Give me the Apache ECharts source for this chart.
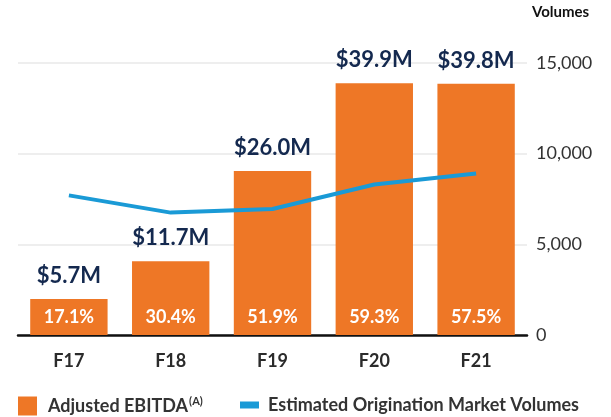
<!DOCTYPE html>
<html>
<head>
<meta charset="utf-8">
<script src="https://cdn.jsdelivr.net/npm/echarts@6/dist/echarts.min.js"></script>
<style>
  html, body { margin: 0; padding: 0; background: #fff; }
  #chart { width: 611px; height: 417px; }
</style>
</head>
<body>
<div id="chart"></div>
<script>
  const years = ['F17', 'F18', 'F19', 'F20', 'F21']
  const ebitda = [5.7, 11.7, 26.0, 39.9, 39.8]
  const margins = [17.1, 30.4, 51.9, 59.3, 57.5]
  const volumes = [7700, 6750, 6950, 8300, 8900]
  const volumeTicks = [0, 5000, 10000, 15000]

  const font = 'Lato'
  const chart = echarts.init(document.getElementById('chart'))

  const option = {
    animation: false,
    grid: { left: 18, right: 84, top: 63, bottom: 82 },
    legend: [
      {
        data: ['Adjusted EBITDA'],
        left: 13,
        top: 391,
        itemWidth: 19,
        itemHeight: 19,
        icon: 'rect',
        formatter: name => name + '{sup|(A)}',
        textStyle: {
          fontFamily: font, fontSize: 18, fontWeight: 'bold', color: '#333',
          padding: [0, 0, 0, 6],
          rich: { sup: { fontFamily: font, fontSize: 11, fontWeight: 'bold', color: '#333', padding: [0, 0, 9, 1] } }
        }
      },
      {
        data: ['Estimated Origination Market Volumes'],
        left: 235,
        top: 391,
        itemWidth: 19,
        itemHeight: 7,
        icon: 'rect',
        textStyle: { fontFamily: font, fontSize: 18, fontWeight: 'bold', color: '#333', padding: [0, 0, 0, 4] }
      }
    ],
    xAxis: {
      type: 'category',
      data: years,
      axisLine: { lineStyle: { color: '#111', width: 2.5 } },
      axisTick: { show: false },
      axisLabel: { margin: 17, fontFamily: font, fontSize: 18, fontWeight: 'bold', color: '#2b2b2b' }
    },
    yAxis: [
      { type: 'value', min: 0, max: 43.1, show: false, splitLine: { show: false } },
      {
        type: 'value',
        position: 'right',
        min: volumeTicks[0],
        max: volumeTicks[volumeTicks.length - 1],
        interval: 5000,
        name: 'Volumes',
        nameLocation: 'end',
        nameGap: 43,
        nameTextStyle: { fontFamily: font, fontSize: 15, fontWeight: 'bold', color: '#111', align: 'left', padding: [0, 0, 0, 5] },
        axisLine: { show: false },
        axisTick: { show: false },
        axisLabel: {
          margin: 9, fontFamily: font, fontSize: 18, color: '#333',
          formatter: v => v.toLocaleString('en-US')
        },
        splitLine: { lineStyle: { color: '#e8e8e8', width: 1.5 } }
      }
    ],
    series: [
      {
        name: 'Adjusted EBITDA',
        type: 'bar',
        data: ebitda,
        barWidth: '76%',
        itemStyle: { color: '#EE7726' },
        label: {
          show: true,
          position: 'top',
          distance: 12,
          fontFamily: font, fontSize: 22, fontWeight: 'bold', color: '#14294F',
          formatter: p => '$' + p.value.toFixed(1) + 'M'
        }
      },
      {
        name: 'margin',
        type: 'bar',
        data: ebitda,
        barWidth: '76%',
        barGap: '-100%',
        itemStyle: { color: 'rgba(0,0,0,0)' },
        label: {
          show: true,
          position: 'insideBottom',
          distance: 9,
          fontFamily: font, fontSize: 18, fontWeight: 'bold', color: '#fff',
          formatter: p => margins[p.dataIndex].toFixed(1) + '%'
        }
      },
      {
        name: 'Estimated Origination Market Volumes',
        type: 'line',
        yAxisIndex: 1,
        data: volumes,
        symbol: 'none',
        z: 5,
        itemStyle: { color: '#1A9AD6' },
        lineStyle: { color: '#1A9AD6', width: 4 }
      }
    ]
  }

  chart.setOption(option)
</script>
</body>
</html>
